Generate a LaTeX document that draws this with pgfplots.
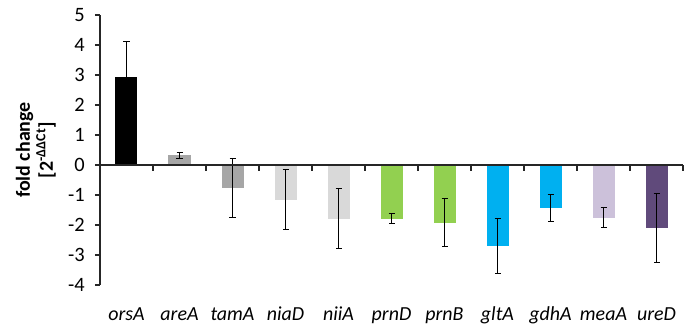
\documentclass[border=0pt]{standalone}
\usepackage{fontspec}
\setmainfont{Carlito}
\usepackage{pgfplots}
\pgfplotsset{compat=1.18}
\definecolor{cgrayA}{HTML}{A6A6A6}
\definecolor{cgrayB}{HTML}{D9D9D9}
\definecolor{cgreen}{HTML}{92D050}
\definecolor{cblue}{HTML}{00B0F0}
\definecolor{clav}{HTML}{CCC1DA}
\definecolor{cpurp}{HTML}{604A7B}
\newcommand{\ylfont}{\bfseries\fontsize{20}{23}\selectfont}
\begin{document}
\begin{tikzpicture}
\useasboundingbox (-100bp,-42bp) rectangle (584bp,285bp);
\begin{axis}[
  scale only axis,
  width=583bp, height=270bp,
  xmin=-0.5, xmax=10.5, ymin=-4, ymax=5,
  axis y line*=left,
  axis x line*=bottom,
  x axis line style={draw=none},
  y axis line style={line width=1.5pt, black!85},
  xtick={0,1,2,3,4,5,6,7,8,9,10},
  xticklabels={orsA,areA,tamA,niaD,niiA,prnD,prnB,gltA,gdhA,meaA,ureD},
  xtick style={draw=none},
  xticklabel style={font=\itshape\fontsize{20}{24}\selectfont, anchor=base, yshift=-30bp},
  ytick={-4,-3,-2,-1,0,1,2,3,4,5},
  ytick style={line width=1.5pt, black!85},
  tick align=outside,
  major tick length=5bp,
  yticklabel style={font=\fontsize{20.5}{24}\selectfont, anchor=east, inner sep=0pt, xshift=-10bp},
  /pgf/number format/assume math mode=true,
  ybar, bar width=22bp, bar shift=0pt,
  error bars/y dir=both, error bars/y explicit,
  error bars/error bar style={line width=1pt, black},
  error bars/error mark options={rotate=90, mark size=3bp, line width=1pt, black},
  clip=false,
]
\addplot[fill=black, draw=none] coordinates {(0,2.92) +- (0,1.2)};
\addplot[fill=cgrayA, draw=none] coordinates {(1,0.33) +- (0,0.1)};
\addplot[fill=cgrayA, draw=none] coordinates {(2,-0.76) +- (0,0.98)};
\addplot[fill=cgrayB, draw=none] coordinates {(3,-1.16) +- (0,1.0)};
\addplot[fill=cgrayB, draw=none] coordinates {(4,-1.79) +- (0,1.0)};
\addplot[fill=cgreen, draw=none] coordinates {(5,-1.79) +- (0,0.16)};
\addplot[fill=cgreen, draw=none] coordinates {(6,-1.92) +- (0,0.81)};
\addplot[fill=cblue, draw=none] coordinates {(7,-2.69) +- (0,0.91)};
\addplot[fill=cblue, draw=none] coordinates {(8,-1.42) +- (0,0.45)};
\addplot[fill=clav, draw=none] coordinates {(9,-1.76) +- (0,0.33)};
\addplot[fill=cpurp, draw=none] coordinates {(10,-2.09) +- (0,1.15)};
\draw[line width=1.2pt, black!85] (axis cs:-0.5,0) -- (axis cs:10.5,0);
\pgfplotsinvokeforeach{0.5,1.5,2.5,3.5,4.5,5.5,6.5,7.5,8.5,9.5,10.5}{
  \draw[line width=1.5pt, black!85] (axis cs:#1,0) -- ([yshift=-6bp]axis cs:#1,0);
}
\node[rotate=89.9, anchor=center, align=center, font=\ylfont, inner sep=0pt]
  at (axis description cs:-0.11,0.5) {fold change\\{[}2\textsuperscript{-ΔΔCt}{]}};
\end{axis}
\end{tikzpicture}
\end{document}
